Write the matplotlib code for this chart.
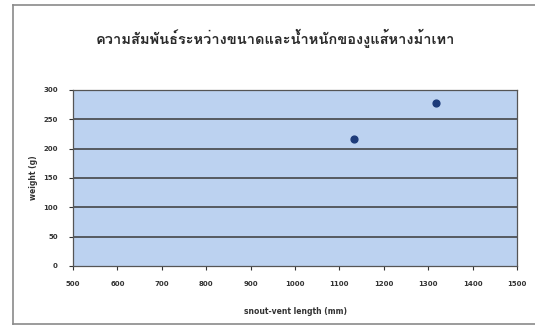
import matplotlib
matplotlib.use("Agg")
import matplotlib.pyplot as plt
from matplotlib import font_manager
from matplotlib.ft2font import FT2Font
from matplotlib.lines import Line2D

# data
length_mm = [1134, 1318]
weight_g = [216, 278]
x_ticks = [500, 600, 700, 800, 900, 1000, 1100, 1200, 1300, 1400, 1500]
y_ticks = [0, 50, 100, 150, 200, 250, 300]
title = "ความสัมพันธ์ระหว่างขนาดและน้ำหนักของงูแส้หางม้าเทา"

# look for an installed font that has Thai glyphs
thai_font = None
for f in font_manager.fontManager.ttflist:
    try:
        if 0x0E04 in FT2Font(f.fname).get_charmap():
            thai_font = f.name
            break
    except Exception:
        pass
families = [thai_font, "DejaVu Sans"] if thai_font else ["DejaVu Sans"]

fig = plt.figure(figsize=(5.35, 3.26), dpi=100)
# chart-area frame (left, top and bottom edges visible on the scan)
x0, x1, y0, y1 = 13 / 535, 1.0, 2 / 326, 321 / 326
for xs, ys in [([x0, x0], [y0, y1]), ([x0, x1], [y1, y1]), ([x0, x1], [y0, y0])]:
    fig.add_artist(Line2D(xs, ys, transform=fig.transFigure,
                          color="#8a8a8a", lw=1.2))

ax = fig.add_axes([73 / 535, 60 / 326, 444 / 535, 176 / 326])
ax.set_facecolor("#bcd2f0")
ax.scatter(length_mm, weight_g, s=24, color="#1d3b7a", zorder=3)

ax.set_xlim(500, 1500)
ax.set_ylim(0, 300)
ax.set_xticks(x_ticks)
ax.set_yticks(y_ticks)
ax.tick_params(labelsize=5, length=3, width=0.8, color="#333333", pad=8)
for lab in ax.get_xticklabels() + ax.get_yticklabels():
    lab.set_fontweight("bold")
    lab.set_color("#333333")

for y in y_ticks[1:-1]:
    ax.axhline(y, color="#3a3a3a", lw=1.1, zorder=1)
for s in ax.spines.values():
    s.set_color("#555555")
    s.set_linewidth(0.9)

ax.set_xlabel("snout-vent length (mm)", fontsize=5.5, fontweight="bold",
              color="#333333", labelpad=14)
ax.set_ylabel("weight (g)", fontsize=5.5, fontweight="bold",
              color="#333333", labelpad=4)

fig.text(0.515, 0.883, title, family=families, fontsize=10.5, fontweight="bold",
         color="#2a2a2a", ha="center", va="center")

fig.savefig("out.png", dpi=100)
